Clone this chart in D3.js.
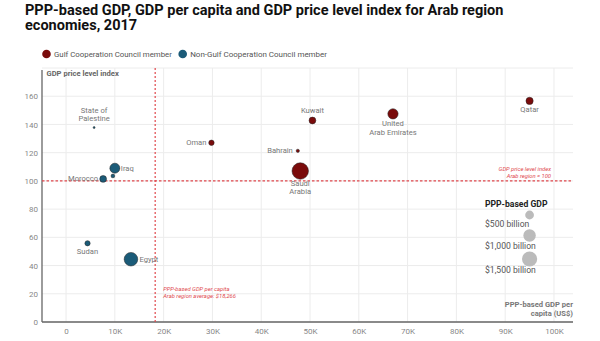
<!DOCTYPE html>
<html>
<head>
<meta charset="utf-8">
<script src="https://cdn.jsdelivr.net/npm/d3@7"></script>
<style>
  body { margin: 0; background: #fff; }
  svg { font-family: Roboto, "Noto Sans", sans-serif; }
</style>
</head>
<body>
<div id="chart"></div>
<script>
// data
var countries = ["State of Palestine", "Oman", "Iraq", "Jordan", "Morocco", "Kuwait",
    "United Arab Emirates", "Bahrain", "Saudi Arabia", "Qatar", "Sudan", "Egypt"];
var gdpPerCapita = [5750, 29800, 10000, 9600, 7600, 50500, 67000, 47500, 48000, 95000, 4400, 13300];
var priceLevel = [137.8, 127, 109, 103.5, 101.4, 142.8, 147.5, 121.3, 107, 156.7, 55.8, 44.5];
var gdpBillion = [25, 190, 650, 90, 300, 300, 690, 70, 1770, 340, 180, 1200];
var isGcc = [false, true, false, false, false, true, true, true, true, true, false, false];
var xTicks = [0, 10000, 20000, 30000, 40000, 50000, 60000, 70000, 80000, 90000, 100000];
var yTicks = [0, 20, 40, 60, 80, 100, 120, 140, 160];
var sizeLegend = [500, 1000, 1500];
var avgGdpPerCapita = 18266;
var avgPriceLevel = 100;

var W = 600, H = 341;
var margin = { top: 68, left: 42, right: 27, bottom: 19 };
var gcc = "#7a0b0b", nonGcc = "#1b5b78", refRed = "#e0474c";

var svg = d3.select("#chart").append("svg")
    .attr("width", W)
    .attr("height", H);

var x = d3.scaleLinear().domain([-4930, 103900]).range([margin.left, W - margin.right]);
var y = d3.scaleLinear().domain([0, 180]).range([H - margin.bottom, margin.top]);
var r = d3.scaleSqrt().domain([0, 1500]).range([0, 7.6]);

// scale a text's font so it spans the width seen in the reference
function fitWidth(sel, width) {
    var fs = +sel.attr("font-size");
    var len = sel.node().getComputedTextLength();
    sel.attr("font-size", (fs * width / len).toFixed(2));
}

// title
var title = ["PPP-based GDP, GDP per capita and GDP price level index for Arab region", "economies, 2017"];
var t1 = svg.append("text").attr("x", 25).attr("y", 14.5)
    .attr("font-size", 13).attr("font-weight", "bold").attr("fill", "#111").text(title[0]);
fitWidth(t1, 479);
svg.append("text").attr("x", 25).attr("y", 30)
    .attr("font-size", t1.attr("font-size")).attr("font-weight", "bold").attr("fill", "#111").text(title[1]);

// legend
var legend = [["Gulf Cooperation Council member", gcc, 46.5, 118], ["Non-Gulf Cooperation Council member", nonGcc, 182.7, 137]];
legend.forEach(function(l) {
    svg.append("circle").attr("cx", l[2]).attr("cy", 54).attr("r", 4.3).attr("fill", l[1]);
    var t = svg.append("text").attr("x", l[2] + 7.5).attr("y", 56.8)
        .attr("font-size", 7.8).attr("fill", "#555").text(l[0]);
    fitWidth(t, l[3]);
});

// grid
svg.append("g").selectAll("line")
    .data(xTicks)
    .enter().append("line")
    .attr("x1", function(d) { return x(d); }).attr("x2", function(d) { return x(d); })
    .attr("y1", y(180)).attr("y2", y(0))
    .attr("stroke", "#ececec").attr("stroke-width", 1);
svg.append("g").selectAll("line")
    .data(yTicks.concat([180]))
    .enter().append("line")
    .attr("x1", x.range()[0]).attr("x2", x.range()[1])
    .attr("y1", function(d) { return y(d); }).attr("y2", function(d) { return y(d); })
    .attr("stroke", "#ececec").attr("stroke-width", 1);

// axes
var xAxis = svg.append("g")
    .attr("transform", "translate(0," + y(0) + ")")
    .call(d3.axisBottom(x).tickValues(xTicks).tickSize(0).tickPadding(6.5)
        .tickFormat(function(d) { return d === 0 ? "0" : d / 1000 + "K"; }));
var yAxis = svg.append("g")
    .attr("transform", "translate(" + x.range()[0] + ",0)")
    .call(d3.axisLeft(y).tickValues(yTicks).tickSize(0).tickPadding(4));
[xAxis, yAxis].forEach(function(a) {
    a.select(".domain").attr("stroke", "#666").attr("stroke-width", 1.3);
    a.selectAll("text").attr("fill", "#888").attr("font-size", 8)
        .attr("font-family", "Roboto, sans-serif");
});
xAxis.select(".domain").attr("d", "M" + x.range()[0] + ",0H" + x.range()[1]);
yAxis.select(".domain").attr("d", "M0," + y(0) + "V" + (y(180) + 2));

// axis titles
svg.append("text").attr("x", 46.5).attr("y", 76)
    .attr("font-size", 7.6).attr("font-weight", "bold").attr("fill", "#666")
    .text("GDP price level index");
svg.append("text").attr("text-anchor", "end")
    .attr("font-size", 7.6).attr("font-weight", "bold").attr("fill", "#777")
    .selectAll("tspan").data(["PPP-based GDP per", "capita (US$)"])
    .enter().append("tspan")
    .attr("x", 573).attr("y", function(d, i) { return 307 + i * 8.5; })
    .text(function(d) { return d; });

// reference lines
svg.append("line")
    .attr("x1", x(avgGdpPerCapita)).attr("x2", x(avgGdpPerCapita))
    .attr("y1", y(180)).attr("y2", y(0))
    .attr("stroke", refRed).attr("stroke-width", 1.2).attr("stroke-dasharray", "2,2");
svg.append("line")
    .attr("x1", x.range()[0]).attr("x2", x.range()[1])
    .attr("y1", y(avgPriceLevel)).attr("y2", y(avgPriceLevel))
    .attr("stroke", refRed).attr("stroke-width", 1.2).attr("stroke-dasharray", "2.5,2");

svg.append("text").attr("font-size", 5.8).attr("font-style", "italic").attr("fill", refRed)
    .selectAll("tspan").data(["PPP-based GDP per capita", "Arab region average: $18,266"])
    .enter().append("tspan")
    .attr("x", x(avgGdpPerCapita) + 8).attr("y", function(d, i) { return 291 + i * 6.5; })
    .text(function(d) { return d; });
svg.append("text").attr("font-size", 5.8).attr("font-style", "italic").attr("fill", refRed)
    .attr("text-anchor", "end")
    .selectAll("tspan").data(["GDP price level index", "Arab region = 100"])
    .enter().append("tspan")
    .attr("x", 551).attr("y", function(d, i) { return 171 + i * 6.5; })
    .text(function(d) { return d; });

// bubbles
var points = countries.map(function(c, i) {
    return { name: c, x: gdpPerCapita[i], y: priceLevel[i], gdp: gdpBillion[i], gcc: isGcc[i] };
});
points.sort(function(a, b) { return b.gdp - a.gdp; });
svg.append("g").selectAll("circle")
    .data(points)
    .enter().append("circle")
    .attr("cx", function(d) { return x(d.x); })
    .attr("cy", function(d) { return y(d.y); })
    .attr("r", function(d) { return r(d.gdp); })
    .attr("fill", function(d) { return d.gcc ? gcc : nonGcc; })
    .attr("stroke", "#222").attr("stroke-width", 0.5);

// country labels: [lines, anchor, dx, dy of first baseline]
var labelPlace = {
    "State of Palestine": [["State of", "Palestine"], "middle", 0, -14.5],
    "Oman": [["Oman"], "end", -5, 2.5],
    "Iraq": [["Iraq"], "start", 6, 2.5],
    "Morocco": [["Morocco"], "end", -5, 2.5],
    "Kuwait": [["Kuwait"], "middle", 0, -7],
    "United Arab Emirates": [["United", "Arab Emirates"], "middle", 0, 12.5],
    "Bahrain": [["Bahrain"], "end", -5, 2.5],
    "Saudi Arabia": [["Saudi", "Arabia"], "middle", 0, 15],
    "Qatar": [["Qatar"], "middle", 0, 11.5],
    "Sudan": [["Sudan"], "middle", 0, 10.5],
    "Egypt": [["Egypt"], "start", 8.5, 2.5]
};
points.forEach(function(d) {
    var p = labelPlace[d.name];
    if (!p) return;
    svg.append("text")
        .attr("font-size", 7.6).attr("fill", "#777").attr("text-anchor", p[1])
        .selectAll("tspan").data(p[0])
        .enter().append("tspan")
        .attr("x", x(d.x) + p[2])
        .attr("y", function(t, i) { return y(d.y) + p[3] + i * 8.3; })
        .text(function(t) { return t; });
});

// size legend
svg.append("text").attr("x", 485).attr("y", 207)
    .attr("font-size", 8.6).attr("font-weight", "bold").attr("fill", "#222")
    .text("PPP-based GDP");
var legendY = [215, 235.5, 259];
sizeLegend.forEach(function(v, i) {
    svg.append("circle").attr("cx", x(95000)).attr("cy", legendY[i])
        .attr("r", r(v)).attr("fill", "#bbb");
    svg.append("text").attr("x", 485).attr("y", legendY[i] + [11.5, 13, 14][i])
        .attr("font-size", 8.6).attr("fill", "#555")
        .text("$" + d3.format(",")(v) + " billion");
});
</script>
</body>
</html>
